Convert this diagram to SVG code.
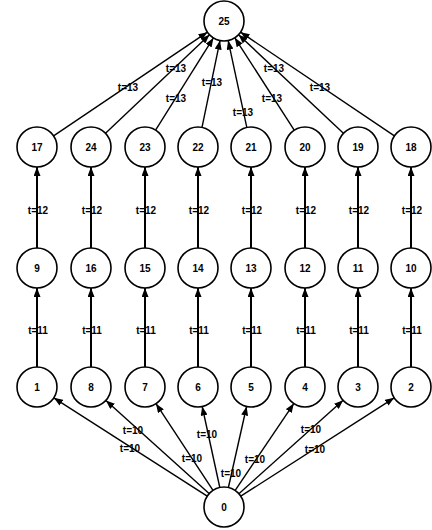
<svg xmlns="http://www.w3.org/2000/svg" width="432" height="530" viewBox="0 0 432 530">
<style>
.n circle{fill:#fff;stroke:#000;stroke-width:1.6}
.n text,.lb{font-family:"Liberation Sans",Arial,sans-serif;font-size:10px;font-weight:bold;fill:#000;text-anchor:middle;dominant-baseline:central}
.e line{stroke:#000;stroke-width:1.4;marker-end:url(#ah)}
.e line.v{stroke-width:2}
</style>
<defs>
<marker id="ah" markerUnits="userSpaceOnUse" markerWidth="9" markerHeight="7" refX="9" refY="3.5" orient="auto"><path d="M0,0 L9,3.5 L0,7 z" fill="#000"/></marker>
</defs>
<rect width="432" height="530" fill="#fff"/>
<g id="connectors" class="e">
<line x1="53.6" y1="135.8" x2="207.4" y2="32.2"/>
<line x1="105.5" y1="133.2" x2="209.5" y2="34.8"/>
<line x1="155.6" y1="130.1" x2="213.4" y2="37.9"/>
<line x1="202.0" y1="127.4" x2="220.0" y2="40.6"/>
<line x1="246.8" y1="127.4" x2="228.2" y2="40.6"/>
<line x1="294.2" y1="130.2" x2="234.8" y2="37.8"/>
<line x1="343.4" y1="133.3" x2="238.6" y2="34.7"/>
<line x1="394.4" y1="135.8" x2="240.6" y2="32.2"/>
<line class="v" x1="37" y1="248" x2="37" y2="167"/>
<line class="v" x1="91" y1="248" x2="91" y2="167"/>
<line class="v" x1="145" y1="248" x2="145" y2="167"/>
<line class="v" x1="198" y1="248" x2="198" y2="167"/>
<line class="v" x1="251" y1="248" x2="251" y2="167"/>
<line class="v" x1="305" y1="248" x2="305" y2="167"/>
<line class="v" x1="358" y1="248" x2="358" y2="167"/>
<line class="v" x1="411" y1="248" x2="411" y2="167"/>
<line class="v" x1="37" y1="367" x2="37" y2="288"/>
<line class="v" x1="91" y1="367" x2="91" y2="288"/>
<line class="v" x1="145" y1="367" x2="145" y2="288"/>
<line class="v" x1="198" y1="367" x2="198" y2="288"/>
<line class="v" x1="251" y1="367" x2="251" y2="288"/>
<line class="v" x1="305" y1="367" x2="305" y2="288"/>
<line class="v" x1="358" y1="367" x2="358" y2="288"/>
<line class="v" x1="411" y1="367" x2="411" y2="288"/>
<line x1="207.2" y1="496.2" x2="53.8" y2="397.8"/>
<line x1="209.1" y1="493.6" x2="105.9" y2="400.4"/>
<line x1="213.0" y1="490.3" x2="156.0" y2="403.7"/>
<line x1="219.8" y1="487.5" x2="202.2" y2="406.5"/>
<line x1="228.4" y1="487.5" x2="246.6" y2="406.5"/>
<line x1="235.2" y1="490.4" x2="293.8" y2="403.6"/>
<line x1="238.9" y1="493.7" x2="343.1" y2="400.3"/>
<line x1="240.8" y1="496.2" x2="394.2" y2="397.8"/>
<text class="lb" x="128" y="87">t=13</text>
<text class="lb" x="176" y="68">t=13</text>
<text class="lb" x="176" y="98">t=13</text>
<text class="lb" x="212" y="82">t=13</text>
<text class="lb" x="243" y="112">t=13</text>
<text class="lb" x="272" y="98">t=13</text>
<text class="lb" x="274" y="68">t=13</text>
<text class="lb" x="320" y="87">t=13</text>
<text class="lb" x="38" y="210">t=12</text>
<text class="lb" x="92" y="210">t=12</text>
<text class="lb" x="146" y="210">t=12</text>
<text class="lb" x="199" y="210">t=12</text>
<text class="lb" x="252" y="210">t=12</text>
<text class="lb" x="306" y="210">t=12</text>
<text class="lb" x="359" y="210">t=12</text>
<text class="lb" x="412" y="210">t=12</text>
<text class="lb" x="38" y="330">t=11</text>
<text class="lb" x="92" y="330">t=11</text>
<text class="lb" x="146" y="330">t=11</text>
<text class="lb" x="199" y="330">t=11</text>
<text class="lb" x="252" y="330">t=11</text>
<text class="lb" x="306" y="330">t=11</text>
<text class="lb" x="359" y="330">t=11</text>
<text class="lb" x="412" y="330">t=11</text>
<text class="lb" x="130" y="448">t=10</text>
<text class="lb" x="133" y="430">t=10</text>
<text class="lb" x="192" y="458">t=10</text>
<text class="lb" x="207" y="434">t=10</text>
<text class="lb" x="231" y="473">t=10</text>
<text class="lb" x="255" y="459">t=10</text>
<text class="lb" x="311" y="429">t=10</text>
<text class="lb" x="315" y="449">t=10</text>
</g>
<g id="n25" class="n"><circle cx="224" cy="21" r="20"/><text x="224" y="21">25</text></g>
<g id="n17" class="n"><circle cx="37" cy="147" r="20"/><text x="37" y="147">17</text></g>
<g id="n24" class="n"><circle cx="91" cy="147" r="20"/><text x="91" y="147">24</text></g>
<g id="n23" class="n"><circle cx="145" cy="147" r="20"/><text x="145" y="147">23</text></g>
<g id="n22" class="n"><circle cx="198" cy="147" r="20"/><text x="198" y="147">22</text></g>
<g id="n21" class="n"><circle cx="251" cy="147" r="20"/><text x="251" y="147">21</text></g>
<g id="n20" class="n"><circle cx="305" cy="147" r="20"/><text x="305" y="147">20</text></g>
<g id="n19" class="n"><circle cx="358" cy="147" r="20"/><text x="358" y="147">19</text></g>
<g id="n18" class="n"><circle cx="411" cy="147" r="20"/><text x="411" y="147">18</text></g>
<g id="n9" class="n"><circle cx="37" cy="268" r="20"/><text x="37" y="268">9</text></g>
<g id="n16" class="n"><circle cx="91" cy="268" r="20"/><text x="91" y="268">16</text></g>
<g id="n15" class="n"><circle cx="145" cy="268" r="20"/><text x="145" y="268">15</text></g>
<g id="n14" class="n"><circle cx="198" cy="268" r="20"/><text x="198" y="268">14</text></g>
<g id="n13" class="n"><circle cx="251" cy="268" r="20"/><text x="251" y="268">13</text></g>
<g id="n12" class="n"><circle cx="305" cy="268" r="20"/><text x="305" y="268">12</text></g>
<g id="n11" class="n"><circle cx="358" cy="268" r="20"/><text x="358" y="268">11</text></g>
<g id="n10" class="n"><circle cx="411" cy="268" r="20"/><text x="411" y="268">10</text></g>
<g id="n1" class="n"><circle cx="37" cy="387" r="20"/><text x="37" y="387">1</text></g>
<g id="n8" class="n"><circle cx="91" cy="387" r="20"/><text x="91" y="387">8</text></g>
<g id="n7" class="n"><circle cx="145" cy="387" r="20"/><text x="145" y="387">7</text></g>
<g id="n6" class="n"><circle cx="198" cy="387" r="20"/><text x="198" y="387">6</text></g>
<g id="n5" class="n"><circle cx="251" cy="387" r="20"/><text x="251" y="387">5</text></g>
<g id="n4" class="n"><circle cx="305" cy="387" r="20"/><text x="305" y="387">4</text></g>
<g id="n3" class="n"><circle cx="358" cy="387" r="20"/><text x="358" y="387">3</text></g>
<g id="n2" class="n"><circle cx="411" cy="387" r="20"/><text x="411" y="387">2</text></g>
<g id="n0" class="n"><circle cx="224" cy="507" r="20"/><text x="224" y="507">0</text></g>
</svg>
